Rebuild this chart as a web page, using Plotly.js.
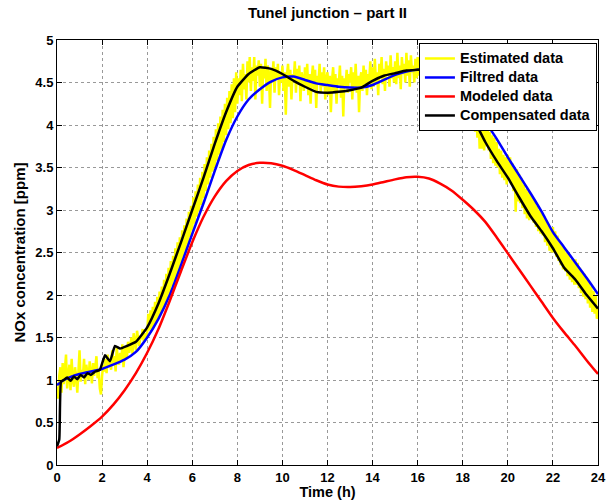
<!DOCTYPE html>
<html>
<head>
<meta charset="utf-8">
<script src="https://cdn.plot.ly/plotly-3.0.1.min.js"></script>
<style>html,body{margin:0;padding:0;background:#fff}#chart{width:606px;height:500px}</style>
</head>
<body>
<div id="chart"></div>
<script>
// X ticks and Y ticks
const xTickVals = [0,2,4,6,8,10,12,14,16,18,20,22,24];
const xTickText = ['0','2','4','6','8','10','12','14','16','18','20','22','24'];
const yTickVals = [0,0.5,1,1.5,2,2.5,3,3.5,4,4.5,5];
const yTickText = ['0','0.5','1','1.5','2','2.5','3','3.5','4','4.5','5'];

// Series names
const seriesNames = ['Estimated data', 'Filtred data', 'Modeled data', 'Compensated data'];

// Estimated data (yellow), one value every 0.05 h from 0 to 24 h (one row per hour)
const estimatedV = [
 0.92,0.78,1.05,1.15,0.85,1.20,0.95,1.10,1.30,0.90,1.05,1.18,0.88,1.25,1.00,0.92,1.15,1.05,0.85,1.20,
 1.35,0.98,1.12,1.05,1.25,0.95,1.18,1.08,1.00,1.22,1.10,0.96,1.20,1.05,1.15,1.28,1.02,1.10,0.90,0.83,
 1.05,1.18,1.10,1.25,1.08,1.30,1.15,1.22,1.12,1.35,1.20,1.28,1.10,1.38,1.25,1.18,1.32,1.22,1.42,1.15,
 1.30,1.40,1.25,1.45,1.32,1.38,1.50,1.30,1.55,1.42,1.35,1.58,1.45,1.40,1.52,1.48,1.60,1.45,1.55,1.50,
 1.55,1.78,1.58,1.82,1.60,1.86,1.64,1.92,1.68,1.98,1.72,2.04,1.76,2.10,1.82,2.18,1.88,2.25,1.95,2.32,
 2.02,2.40,2.10,2.46,2.16,2.55,2.22,2.62,2.30,2.68,2.38,2.76,2.45,2.82,2.52,2.90,2.60,2.98,2.68,3.05,
 2.76,3.15,2.84,3.22,2.92,3.30,2.98,3.38,3.06,3.45,3.14,3.54,3.22,3.62,3.30,3.70,3.38,3.78,3.45,3.86,
 3.50,3.95,3.58,4.02,3.65,4.10,3.72,4.18,3.80,4.25,3.88,4.32,3.95,4.40,4.02,4.48,4.08,4.55,4.15,4.62,
 4.25,4.55,4.35,4.65,4.28,4.72,4.42,4.60,4.30,4.75,4.50,4.80,4.40,4.68,4.52,4.80,4.30,4.70,4.58,4.76,
 4.45,4.72,4.25,4.66,4.55,4.78,4.40,4.70,4.60,4.20,4.65,4.50,4.75,4.38,4.68,4.55,4.72,4.35,4.62,4.50,
 4.70,4.40,4.62,4.12,4.58,4.72,4.45,4.65,4.30,4.60,4.52,4.75,4.38,4.66,4.48,4.70,4.28,4.62,4.55,4.40,
 4.68,4.45,4.72,4.35,4.60,4.25,4.55,4.70,4.42,4.65,4.20,4.58,4.50,4.72,4.38,4.62,4.45,4.68,4.30,4.55,
 4.62,4.35,4.58,4.15,4.52,4.68,4.40,4.60,4.25,4.55,4.48,4.70,4.32,4.58,4.10,4.55,4.45,4.65,4.38,4.60,
 4.50,4.68,4.30,4.62,4.45,4.72,4.38,4.58,4.15,4.55,4.62,4.40,4.70,4.48,4.65,4.35,4.60,4.52,4.75,4.42,
 4.68,4.45,4.78,4.50,4.62,4.35,4.72,4.55,4.80,4.48,4.66,4.40,4.75,4.58,4.70,4.45,4.82,4.55,4.68,4.50,
 4.75,4.48,4.85,4.55,4.70,4.42,4.80,4.60,4.72,4.50,4.85,4.58,4.76,4.45,4.82,4.62,4.70,4.50,4.78,4.55,
 4.80,4.58,4.72,4.50,4.78,4.62,4.70,4.48,4.76,4.55,4.68,4.52,4.74,4.60,4.70,4.45,4.72,4.58,4.66,4.50,
 4.78,4.50,4.70,4.45,4.68,4.40,4.62,4.35,4.66,4.30,4.60,4.32,4.58,4.25,4.55,4.22,4.52,4.20,4.48,4.18,
 4.50,4.20,4.45,4.15,4.40,4.05,4.32,3.98,4.28,3.95,4.30,3.92,4.18,3.85,4.10,3.72,4.05,3.72,4.00,3.70,
 4.05,3.75,3.98,3.70,3.92,3.60,3.88,3.55,3.85,3.52,3.80,3.50,3.72,3.42,3.70,3.38,3.65,3.35,3.62,3.30,
 3.65,3.35,3.62,3.30,3.55,3.22,3.50,2.98,3.48,3.10,3.42,3.08,3.38,3.02,3.30,2.95,3.25,2.90,3.22,2.88,
 3.20,2.90,3.15,2.85,3.10,2.80,3.05,2.75,3.00,2.72,2.98,2.70,2.92,2.62,2.88,2.58,2.82,2.52,2.78,2.50,
 2.80,2.50,2.75,2.45,2.70,2.40,2.62,2.35,2.58,2.30,2.55,2.28,2.50,2.22,2.48,2.18,2.42,2.15,2.40,2.12,
 2.42,2.12,2.38,2.08,2.32,2.02,2.28,1.98,2.25,1.95,2.20,1.90,2.15,1.85,2.10,1.80,2.05,1.78,2.00,1.72,
 1.85
];
const estimatedH = estimatedV.map((v, i) => i / 20);

// Filtred data (blue)
const filtredH = [0,0.3,1,2,3,3.5,4,4.5,5,5.5,6,6.5,7,7.5,8,8.5,9,9.5,10,10.5,11,11.5,12,12.5,13,13.5,14,14.5,15,15.5,16,16.5,17,17.5,18,18.5,19,19.5,20,20.5,21,21.5,22,22.5,23,23.5,24];
const filtredV = [0.94,1.0,1.07,1.13,1.24,1.33,1.5,1.72,2.0,2.35,2.72,3.08,3.46,3.82,4.1,4.3,4.42,4.51,4.56,4.57,4.53,4.49,4.47,4.45,4.44,4.44,4.47,4.53,4.59,4.63,4.65,4.65,4.62,4.55,4.42,4.24,4.04,3.84,3.62,3.41,3.2,2.98,2.74,2.56,2.38,2.2,2.01];

// Modeled data (red)
const modeledH = [0,0.5,1,1.5,2,2.5,3,3.5,4,4.5,5,5.5,6,6.5,7,7.5,8,8.5,9,9.5,10,10.5,11,11.5,12,12.5,13,13.5,14,14.5,15,15.5,16,16.5,17,17.5,18,18.5,19,19.5,20,20.5,21,21.5,22,22.5,23,23.5,24];
const modeledV = [0.2,0.27,0.36,0.46,0.57,0.71,0.88,1.08,1.32,1.6,1.93,2.28,2.62,2.92,3.16,3.34,3.46,3.53,3.555,3.55,3.52,3.47,3.41,3.35,3.3,3.275,3.27,3.28,3.3,3.33,3.36,3.385,3.39,3.37,3.31,3.23,3.12,3.0,2.86,2.68,2.49,2.3,2.11,1.92,1.73,1.56,1.4,1.23,1.07];

// Compensated data (black)
const compensatedH = [0,0.1,0.18,0.3,0.45,0.6,0.75,0.9,1.05,1.2,1.35,1.5,1.7,1.9,2.13,2.35,2.57,2.8,3.1,3.5,4,4.5,5,5.5,6,6.5,7,7.5,8,8.5,9,9.5,10,10.5,11,11.5,12,12.5,13,13.5,14,14.5,15,15.5,16,16.5,17,17.5,18,18.5,19,19.5,20,20.5,21,21.5,22,22.5,23,23.5,24];
const compensatedV = [0.22,0.3,0.98,1.0,1.03,0.99,1.04,1.01,1.06,1.03,1.08,1.06,1.1,1.12,1.29,1.22,1.4,1.37,1.4,1.45,1.62,1.9,2.25,2.62,3.0,3.38,3.78,4.15,4.45,4.6,4.68,4.66,4.6,4.52,4.45,4.39,4.38,4.39,4.41,4.44,4.52,4.58,4.61,4.64,4.65,4.66,4.62,4.5,4.3,4.06,3.8,3.58,3.38,3.15,2.93,2.75,2.55,2.32,2.18,2.0,1.84];

const FONT = 'Liberation Sans, Arial, Helvetica, sans-serif';
const tickFont = {family: FONT, size: 13, color: '#000', weight: 'bold'};
const titleFont = {family: FONT, size: 15, color: '#000', weight: 'bold'};
const legendFont = {family: FONT, size: 10.5, color: '#000', weight: 'bold'};
const legendName = s => '<span style="font-size:14.5px">' + s + '</span>';

const traces = [
  {x: estimatedH, y: estimatedV, name: legendName(seriesNames[0]), mode: 'lines', line: {color: '#ffff00', width: 2.5}},
  {x: filtredH, y: filtredV, name: legendName(seriesNames[1]), mode: 'lines', line: {color: '#0000ff', width: 2.5, shape: 'spline', smoothing: 0.6}},
  {x: modeledH, y: modeledV, name: legendName(seriesNames[2]), mode: 'lines', line: {color: '#ff0000', width: 2.5, shape: 'spline', smoothing: 0.6}},
  {x: compensatedH, y: compensatedV, name: legendName(seriesNames[3]), mode: 'lines', line: {color: '#000000', width: 2.5, shape: 'spline', smoothing: 0.4}}
];

const axisCommon = {
  ticks: 'inside', ticklen: 5, tickcolor: '#000', tickwidth: 1,
  showline: true, linecolor: '#000', linewidth: 1, mirror: 'ticks',
  showgrid: true, gridcolor: '#999', griddash: 'dot', gridwidth: 1,
  zeroline: false, tickfont: tickFont, fixedrange: true
};

const layout = {
  width: 606, height: 500,
  margin: {l: 57, r: 8, t: 40, b: 35},
  paper_bgcolor: '#fff', plot_bgcolor: '#fff',
  title: {text: 'Tunel junction – part II', font: titleFont, x: 0.5405, xanchor: 'center', y: 0.974, yref: 'container', yanchor: 'middle'},
  xaxis: Object.assign({}, axisCommon, {range: [0, 24], tickvals: xTickVals, ticktext: xTickText,
    title: {text: 'Time (h)', font: {family: FONT, size: 14.5, color: '#000', weight: 'bold'}, standoff: 4}}),
  yaxis: Object.assign({}, axisCommon, {range: [0, 5], tickvals: yTickVals, ticktext: yTickText,
    title: {text: 'NOx concentration [ppm]', font: titleFont, standoff: 6}}),
  showlegend: true,
  legend: {x: 0.998, xanchor: 'right', y: 0.993, yanchor: 'top', bgcolor: '#fff', bordercolor: '#000', borderwidth: 1, font: legendFont, tracegroupgap: 0}
};

Plotly.newPlot('chart', traces, layout, {displayModeBar: false, staticPlot: true});
</script>
</body>
</html>
